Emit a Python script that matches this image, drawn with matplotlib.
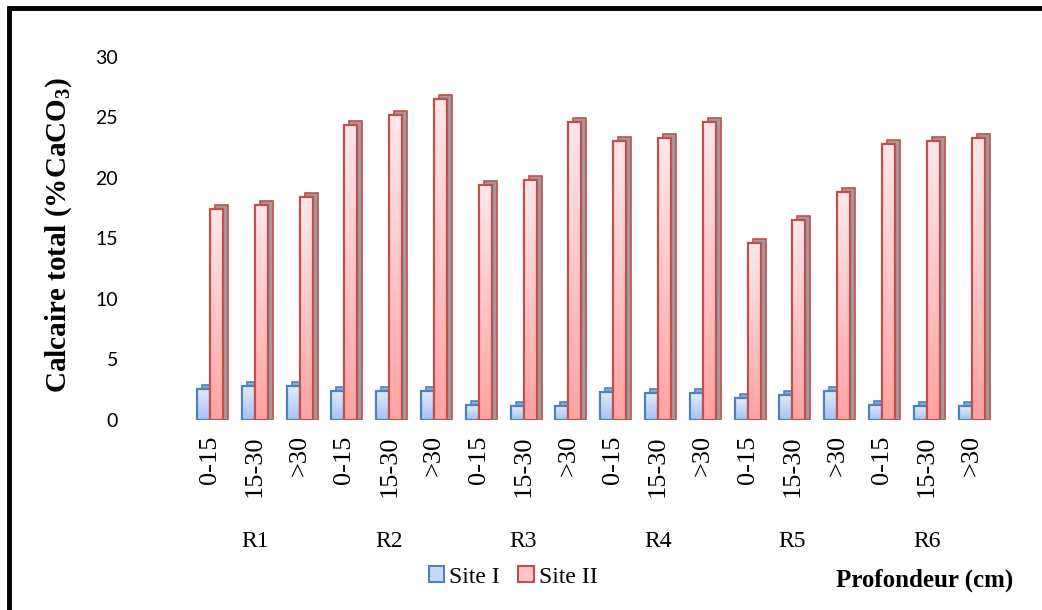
import numpy as np
import matplotlib.pyplot as plt
import matplotlib.transforms as mtransforms
from matplotlib.colors import LinearSegmentedColormap
from matplotlib.patches import Patch
from matplotlib.lines import Line2D

plt.rcParams['mathtext.fontset'] = 'custom'
plt.rcParams['mathtext.rm'] = 'Liberation Serif:bold'
plt.rcParams['mathtext.default'] = 'rm'

# data
profils = ['R1', 'R2', 'R3', 'R4', 'R5', 'R6']
profondeurs = ['0-15', '15-30', '>30']
site1 = [2.6, 2.8, 2.8, 2.4, 2.4, 2.4, 1.2, 1.15, 1.15,
         2.35, 2.2, 2.2, 1.8, 2.1, 2.4, 1.25, 1.15, 1.15]
site2 = [17.4, 17.8, 18.45, 24.4, 25.2, 26.5, 19.4, 19.8, 24.6,
         23.05, 23.3, 24.6, 14.6, 16.5, 18.8, 22.8, 23.05, 23.3]

tick_labels = profondeurs * len(profils)
x = np.arange(len(site1))
w = 0.29

fig = plt.figure(figsize=(10.42, 6.1), dpi=100)
ax = fig.add_axes([0.18, 0.3115, 0.774, 0.5951])

grad = np.linspace(0, 1, 100).reshape(-1, 1)
sink = 0.33  # depth bars start a bit below 0 so the shifted copy reaches the base


def draw_bars(xpos, vals, c_top, c_bot, edge, side, z):
    # fake 3D depth: same bars shifted a few pixels right and up
    depth = mtransforms.offset_copy(ax.transData, fig=fig, x=5, y=4, units='dots')
    ax.bar(xpos, np.array(vals) + sink, w, bottom=-sink, color=side,
           edgecolor=edge, lw=1.2, transform=depth, zorder=z)
    bars = ax.bar(xpos, vals, w, facecolor='none', edgecolor=edge,
                  lw=1.6, zorder=z + 2)
    cmap = LinearSegmentedColormap.from_list('g', [c_bot, c_top])
    for b in bars:
        im = ax.imshow(grad, cmap=cmap, origin='lower', aspect='auto',
                       extent=[b.get_x(), b.get_x() + b.get_width(), 0, b.get_height()],
                       zorder=z + 1)
        im.set_clip_path(b)


draw_bars(x - w / 2, site1, '#e2ecfd', '#a4c2f4', '#4f81bd', '#8eaad6', 1)
draw_bars(x + w / 2, site2, '#ffe8e8', '#ffa3a3', '#c0504d', '#a39a9a', 4)

ax.set_xlim(-0.5, len(x) - 0.5)
ax.set_ylim(0, 30)
ax.set_aspect('auto')

ax.set_xticks(x)
ax.set_xticklabels(tick_labels, rotation=90, fontfamily='Liberation Serif', fontsize=19)
ax.set_yticks(range(0, 31, 5))
ax.set_yticklabels([str(v) for v in range(0, 31, 5)], fontfamily='Lato', fontsize=14)
ax.tick_params(axis='x', length=0, pad=11)
ax.tick_params(axis='y', length=0, pad=50)
for s in ax.spines.values():
    s.set_visible(False)

for i, p in enumerate(profils):
    ax.text(i * 3 + 1, -0.335, p, transform=ax.get_xaxis_transform(),
            ha='center', va='center', fontfamily='Liberation Serif', fontsize=17)

fig.text(59 / 1042, 1 - 235 / 610, 'Calcaire total (%CaCO$_3$)', rotation=90,
         ha='center', va='center', fontfamily='Liberation Serif',
         fontweight='bold', fontsize=21)

fig.text(1013 / 1042, 1 - 580 / 610, 'Profondeur (cm)', ha='right', va='center',
         fontfamily='Liberation Serif', fontweight='bold', fontsize=18)

handles = [Patch(facecolor='#c8dbf9', edgecolor='#4f81bd', lw=1.5),
           Patch(facecolor='#ffc4c4', edgecolor='#c0504d', lw=1.5)]
fig.legend(handles, ['Site I', 'Site II'], loc='center', ncol=2,
           bbox_to_anchor=(513 / 1042, 1 - 577 / 610), frameon=False,
           prop={'family': 'Liberation Serif', 'size': 17},
           handlelength=0.65, handleheight=0.65, handletextpad=0.2,
           columnspacing=0.8)

# frame from the source document (left and top edges)
fig.add_artist(Line2D([8.5 / 1042, 8.5 / 1042, 1.0], [0, 1 - 7.5 / 610, 1 - 7.5 / 610],
                      transform=fig.transFigure, color='black', lw=3.5,
                      solid_joinstyle='miter'))

fig.savefig('out.png', dpi=100)
